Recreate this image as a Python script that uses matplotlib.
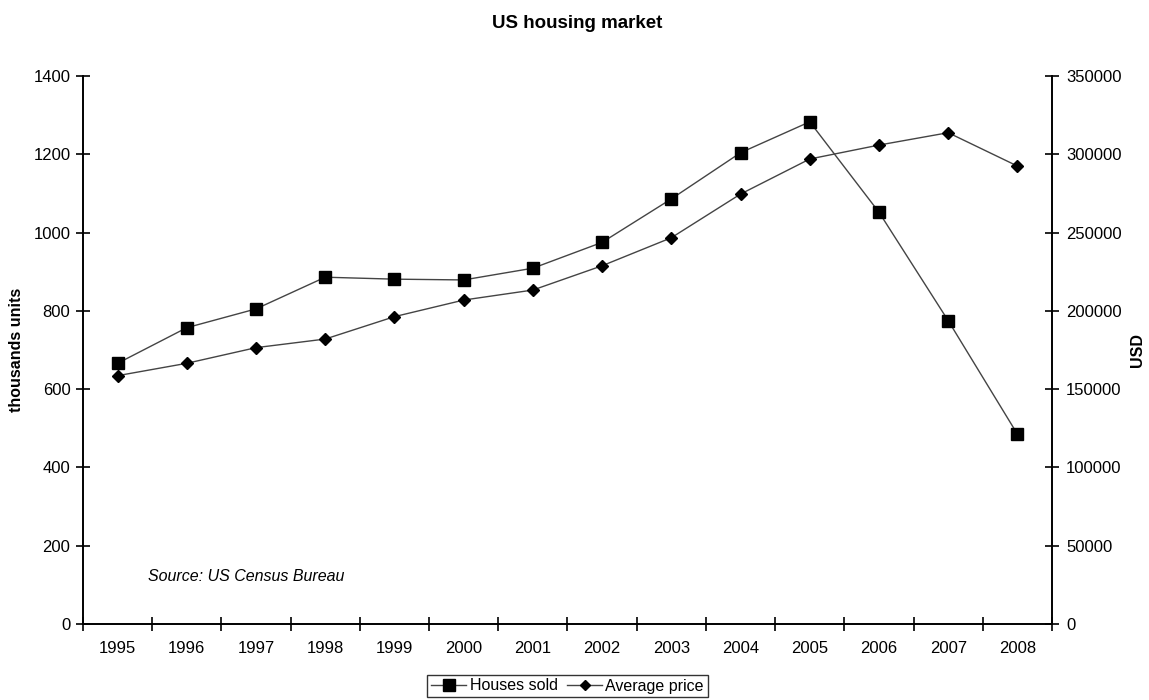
import matplotlib
matplotlib.use("Agg")
import matplotlib.pyplot as plt

# ─── DATA ─────────────────────────────────────────────────────────────────────
years = ['1995', '1996', '1997', '1998', '1999', '2000', '2001',
         '2002', '2003', '2004', '2005', '2006', '2007', '2008']
houses_sold = [666, 757, 805, 886, 881, 879, 909,
               975, 1086, 1204, 1283, 1052, 775, 485]          # thousands units
avg_price = [158600, 166500, 176500, 182000, 196300, 206900, 213300,
             228800, 246700, 274600, 297000, 305900, 313800, 292500]  # USD

left_ticks = [0, 200, 400, 600, 800, 1000, 1200, 1400]
right_ticks = [0, 50000, 100000, 150000, 200000, 250000, 300000, 350000]

plt.rcParams['font.family'] = ['Liberation Sans', 'DejaVu Sans']

# ─── FIGURE ───────────────────────────────────────────────────────────────────
fig = plt.figure(figsize=(11.49, 7.0), dpi=100)
ax = fig.add_axes([0.0722, 0.1086, 0.8434, 0.7828])
ax2 = ax.twinx()

x = list(range(len(years)))
line_kw = dict(color='#444444', linewidth=1.0, markerfacecolor='black',
               markeredgecolor='black')
l1, = ax.plot(x, houses_sold, marker='s', markersize=9, label='Houses sold', **line_kw)
l2, = ax2.plot(x, avg_price, marker='D', markersize=6, label='Average price', **line_kw)

ax.set_xlim(-0.5, len(years) - 0.5)
ax.set_ylim(0, 1400)
ax2.set_ylim(0, 350000)
ax.set_yticks(left_ticks)
ax2.set_yticks(right_ticks)
ax.set_xticks(x)
ax.set_xticklabels(years)
ax.set_xticks([i + 0.5 for i in range(-1, len(years))], minor=True)

for a in (ax, ax2):
    a.spines['top'].set_visible(False)
    for s in ('left', 'right', 'bottom'):
        a.spines[s].set_linewidth(1.2)

ax.tick_params(axis='x', which='major', length=0, pad=12, labelsize=12)
ax.tick_params(axis='x', which='minor', direction='inout', length=10, width=1.2)
ax.tick_params(axis='y', direction='inout', length=10, width=1.2, pad=4, labelsize=12)
ax2.tick_params(axis='y', direction='inout', length=10, width=1.2, pad=5, labelsize=12)

ax.set_ylabel('thousands units', fontsize=11.5, fontweight='bold', labelpad=7)
ax2.set_ylabel('USD', fontsize=11.5, fontweight='bold', labelpad=6)

fig.suptitle('US housing market', fontsize=13.5, fontweight='bold', x=0.502, y=0.978)

ax.text(0.067, 0.086, 'Source: US Census Bureau', transform=ax.transAxes,
        fontsize=11.5, style='italic', va='center', ha='left')

leg = fig.legend([l1, l2], ['Houses sold', 'Average price'], loc='center',
                 bbox_to_anchor=(0.494, 0.02), ncol=2, fontsize=11.5,
                 frameon=True, fancybox=False, edgecolor='black',
                 handlelength=2.2, handletextpad=0.2, columnspacing=0.6,
                 borderpad=0.25, borderaxespad=0, markerscale=0.9)
leg.get_frame().set_linewidth(1.0)

fig.savefig('out.png', dpi=100)
